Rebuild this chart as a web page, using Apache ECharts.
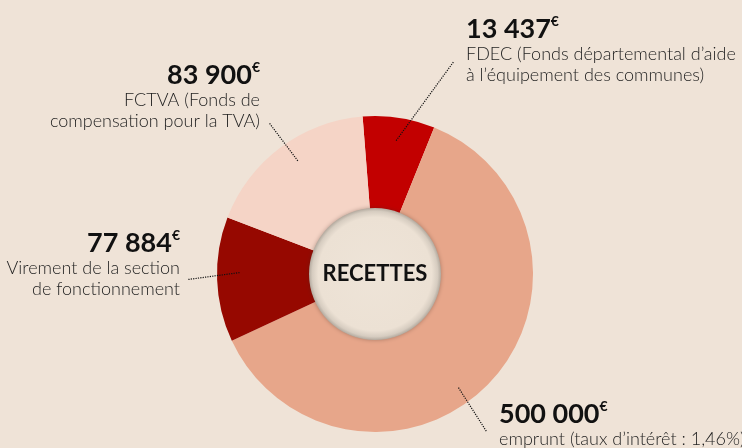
<!DOCTYPE html>
<html>
<head>
<meta charset="utf-8">
<script src="https://cdn.jsdelivr.net/npm/echarts@6/dist/echarts.min.js"></script>
<style>
  html, body { margin: 0; padding: 0; background: #efe3d7; }
  #chart { width: 742px; height: 448px; }
</style>
</head>
<body>
<div id="chart"></div>
<script>
// data
const categories = ['FDEC', 'Emprunt', 'Virement', 'FCTVA'];
const amounts = ['13 437', '500 000', '77 884', '83 900'];
const descriptions = [
  'FDEC (Fonds départemental d’aide\nà l’équipement des communes)',
  'emprunt (taux d’intérêt : 1,46%)',
  'Virement de la section\nde fonctionnement',
  'FCTVA (Fonds de\ncompensation pour la TVA)'
];
// the ring is not drawn to scale in the original: shares are the arcs seen (degrees)
const arcShares = [26.5, 223, 46, 64.5];
const sliceColors = ['#c20000', '#e7a68a', '#960800', '#f5d4c6'];
const centerTitle = 'RECETTES';

// layout
const CX = 375, CY = 274, R_OUT = 158, R_IN = 66;
const FONT = 'Lato, sans-serif';
const labelPos = [
  {x: 466, y: 14, align: 'left'},
  {x: 499, y: 399, align: 'left'},
  {x: 180, y: 228, align: 'right'},
  {x: 260, y: 60, align: 'right'}
];
// leader lines as [radius, angle clockwise from top] pairs
const leaders = [
  [[135, 9], [226, 20.3]],
  [[141, 143.7], [193, 144.7]],
  [[135.5, 270.6], [187.6, 268.3]],
  [[137, 325.7], [184, 325]]
];

function polar(p) {
  const a = p[1] * Math.PI / 180;
  return [CX + p[0] * Math.sin(a), CY - p[0] * Math.cos(a)];
}

const pieData = categories.map((c, i) => ({
  name: c,
  value: arcShares[i],
  itemStyle: {color: sliceColors[i]}
}));

const chart = echarts.init(document.getElementById('chart'));

chart.setOption({
  backgroundColor: '#efe3d7',
  animation: false,
  series: [
    {
      // visible ring
      type: 'pie',
      z: 2,
      center: [CX, CY],
      radius: [R_IN - 4, R_OUT],
      startAngle: 94.5,
      clockwise: true,
      silent: true,
      data: pieData,
      label: {show: false},
      labelLine: {show: false}
    },
    {
      // same ring, transparent, carrying labels and leader lines above the slices
      type: 'pie',
      z: 3,
      center: [CX, CY],
      radius: [R_IN - 4, R_OUT],
      startAngle: 94.5,
      clockwise: true,
      silent: true,
      avoidLabelOverlap: false,
      data: pieData.map(d => ({name: d.name, value: d.value, itemStyle: {color: 'rgba(0,0,0,0)'}})),
      label: {
        show: true,
        position: 'outside',
        width: 320,
        overflow: 'none',
        formatter: p => '{v|' + amounts[p.dataIndex] + '}{e|€}\n{d|' + descriptions[p.dataIndex] + '}',
        rich: {
          v: {fontFamily: FONT, fontWeight: 'bold', fontSize: 27, lineHeight: 30, color: '#111'},
          e: {fontFamily: FONT, fontWeight: 'bold', fontSize: 14, lineHeight: 16, verticalAlign: 'top', color: '#111'},
          d: {fontFamily: FONT, fontWeight: 300, fontSize: 18, lineHeight: 21, color: '#1e1e1e'}
        }
      },
      labelLine: {
        show: true,
        lineStyle: {type: 'dotted', color: '#111', width: 1.2}
      },
      labelLayout: params => {
        const i = params.dataIndex;
        return {
          x: labelPos[i].x,
          y: labelPos[i].y,
          align: labelPos[i].align,
          verticalAlign: 'top',
          labelLinePoints: [polar(leaders[i][0]), polar(leaders[i][1])]
        };
      }
    },
    {
      type: 'pie',
      z: 4,
      center: [CX, CY],
      radius: [0, R_IN],
      silent: true,
      data: [{name: centerTitle, value: 1}],
      itemStyle: {
        color: {
          type: 'radial', x: 0.5, y: 0.5, r: 0.5,
          colorStops: [
            {offset: 0, color: '#eee4d8'},
            {offset: 0.86, color: '#ece1d4'},
            {offset: 0.95, color: '#d6ccc0'},
            {offset: 1, color: '#b3aa9f'}
          ]
        },
        shadowBlur: 4,
        shadowColor: 'rgba(60,40,30,0.35)'
      },
      label: {
        show: true,
        position: 'center',
        formatter: centerTitle,
        fontFamily: FONT,
        fontWeight: 'bold',
        fontSize: 22,
        color: '#111'
      },
      labelLine: {show: false}
    }
  ]
});
</script>
</body>
</html>
